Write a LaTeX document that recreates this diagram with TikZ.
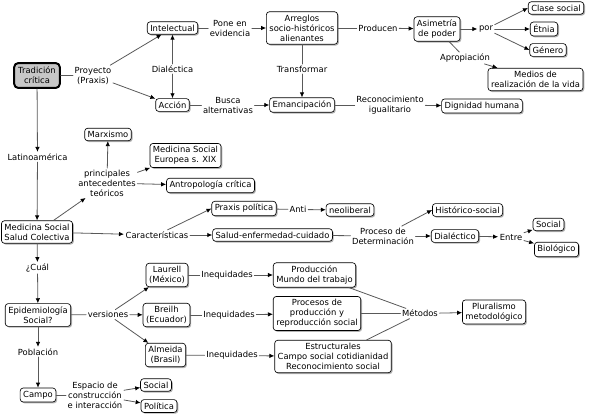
\documentclass[tikz,border=0pt]{standalone}
\usepackage{fontspec}
\setmainfont{DejaVu Sans}
\usetikzlibrary{arrows.meta,shadows}

\begin{document}
\begin{tikzpicture}[x=1pt,y=-1pt,>={Latex[length=5pt,width=4.5pt,color=black]},line cap=round,line join=round,
  font=\fontsize{8.4}{10}\selectfont,
  concept/.style={draw=black,line width=0.65pt,fill=white,rounded corners=3pt,align=center,inner xsep=3pt,inner ysep=3pt,
    drop shadow={shadow xshift=1.3pt,shadow yshift=-1.3pt,opacity=0.6}},
  focus/.style={draw=black,line width=2pt,fill=black!22,rounded corners=4pt,align=center,inner xsep=4pt,inner ysep=4pt},
  link/.style={align=center,inner sep=1.5pt},
  conn/.style={draw=black!65,line width=0.8pt}]
\useasboundingbox (0,0) rectangle (589,418);
% tradicion critica
\node[focus] (trad) at (37,75.5) {Tradición\\crítica};
\node[link] (proy) at (93,75.5) {Proyecto\\(Praxis)};
\node[concept] (intel) at (172.5,28) {Intelectual};
\node[link] (dial) at (172.5,69) {Dialéctica};
\node[concept] (accion) at (172.5,105) {Acción};
\node[link] (pone) at (230,28) {Pone en\\evidencia};
\node[concept] (arreglos) at (302,28) {Arreglos\\socio-históricos\\alienantes};
\node[link] (transf) at (302,69) {Transformar};
\node[link] (busca) at (228,105) {Busca\\alternativas};
\node[concept] (emanc) at (302,105) {Emancipación};
\node[link] (prod) at (378,28) {Producen};
\node[concept] (asim) at (437,29) {Asimetría\\de poder};
\node[link] (por) at (486,29) {por};
\node[concept] (clase) at (556,8) {Clase social};
\node[concept] (etnia) at (544,29) {Étnia};
\node[concept] (genero) at (548,50) {Género};
\node[link] (aprop) at (465,58) {Apropiación};
\node[concept] (medios) at (535.5,79.5) {Medios de\\realización de la vida};
\node[link] (recon) at (390,105) {Reconocimiento\\igualitario};
\node[concept] (dign) at (482,106) {Dignidad humana};
% medicina social
\node[link] (latam) at (37.5,157) {Latinoamérica};
\node[concept] (medsoc) at (37,232) {Medicina Social\\Salud Colectiva};
\node[link] (princ) at (107,183) {principales\\antecedentes\\teóricos};
\node[concept] (marx) at (108,134.5) {Marxismo};
\node[concept] (europ) at (185.5,155.5) {Medicina Social\\Europea s. XIX};
\node[concept] (antrop) at (210.5,185.5) {Antropología crítica};
\node[link] (caract) at (157,235) {Características};
\node[concept] (praxis) at (244,208.5) {Praxis política};
\node[link] (anti) at (298,209.5) {Anti};
\node[concept] (neolib) at (350,210) {neoliberal};
\node[concept] (salud) at (272.5,235) {Salud-enfermedad-cuidado};
\node[link] (proceso) at (383,236) {Proceso de\\Determinación};
\node[concept] (histor) at (467.5,210) {Histórico-social};
\node[concept] (dialect) at (455,236) {Dialéctico};
\node[link] (entre) at (511,237) {Entre};
\node[concept] (social) at (548.5,224.5) {Social};
\node[concept] (biol) at (556.5,249.5) {Biológico};
% epidemiologia
\node[link] (cual) at (37.5,268) {¿Cuál};
\node[concept] (epid) at (38,315) {Epidemiología\\Social?};
\node[link] (vers) at (108,314.5) {versiones};
\node[concept] (laurell) at (167,275) {Laurell\\(México)};
\node[concept] (breilh) at (166.5,315) {Breilh\\(Ecuador)};
\node[concept] (almeida) at (165.5,355) {Almeida\\(Brasil)};
\node[link] (ineqa) at (227,275) {Inequidades};
\node[link] (ineqb) at (229,315) {Inequidades};
\node[link] (ineqc) at (232,355.5) {Inequidades};
\node[concept] (produc) at (314.5,275) {Producción\\Mundo del trabajo};
\node[concept] (procesos) at (317,313.5) {Procesos de\\producción y\\reproducción social};
\node[concept] (estruct) at (333,356.5) {Estructurales\\Campo social cotidianidad\\Reconocimiento social};
\node[link] (metodos) at (420,313.5) {Métodos};
\node[concept] (plural) at (494,312) {Pluralismo\\metodológico};
\node[link] (pobl) at (38,352) {Población};
\node[concept] (campo) at (38,395) {Campo};
\node[link] (espacio) at (95,395) {Espacio de\\construcción\\e interacción};
\node[concept] (socialb) at (156,385) {Social};
\node[concept] (politica) at (159,406) {Política};
% connectors
\draw[conn] (trad) -- (proy);
\draw[conn,->] (proy) -- (intel);
\draw[conn,->] (proy) -- (accion);
\draw[conn,->] (dial) -- (intel);
\draw[conn,->] (dial) -- (accion);
\draw[conn] (intel) -- (pone);
\draw[conn,->] (pone) -- (arreglos);
\draw[conn] (arreglos) -- (transf);
\draw[conn,->] (transf) -- (emanc);
\draw[conn] (accion) -- (busca);
\draw[conn,->] (busca) -- (emanc);
\draw[conn] (arreglos) -- (prod);
\draw[conn,->] (prod) -- (asim);
\draw[conn,->] (asim) -- (por);
\draw[conn,->] (por) -- (clase.west);
\draw[conn,->] (por) -- (etnia);
\draw[conn,->] (por) -- (genero.west);
\draw[conn] (asim) -- (aprop);
\draw[conn,->] (aprop) -- (medios);
\draw[conn] (emanc) -- (recon);
\draw[conn,->] (recon) -- (dign);
\draw[conn,->] (trad) -- (latam);
\draw[conn,->] (latam) -- (medsoc);
\draw[conn,->] (medsoc) -- (princ);
\draw[conn,->] (princ) -- (marx);
\draw[conn,->] (princ) -- (europ);
\draw[conn,->] (princ) -- (antrop);
\draw[conn,->] (medsoc) -- (caract);
\draw[conn,->] (caract) -- (praxis.west);
\draw[conn,->] (caract) -- (salud);
\draw[conn] (praxis) -- (anti);
\draw[conn,->] (anti) -- (neolib);
\draw[conn] (salud) -- (proceso);
\draw[conn,->] (proceso) -- (histor.west);
\draw[conn,->] (proceso) -- (dialect);
\draw[conn,->] (dialect) -- (entre);
\draw[conn,->] (entre) -- (social);
\draw[conn,->] (entre) -- (biol);
\draw[conn,->] (medsoc) -- (cual);
\draw[conn,->] (cual) -- (epid);
\draw[conn] (epid) -- (vers);
\draw[conn,->] (vers) -- (laurell);
\draw[conn,->] (vers) -- (breilh);
\draw[conn,->] (vers) -- (almeida);
\draw[conn] (laurell) -- (ineqa);
\draw[conn,->] (ineqa) -- (produc);
\draw[conn] (breilh) -- (ineqb);
\draw[conn,->] (ineqb) -- (procesos);
\draw[conn] (almeida) -- (ineqc);
\draw[conn,->] (ineqc) -- (estruct);
\draw[conn] (produc) -- (metodos);
\draw[conn] (procesos) -- (metodos);
\draw[conn] (estruct) -- (metodos);
\draw[conn,->] (metodos) -- (plural);
\draw[conn,->] (epid) -- (pobl);
\draw[conn,->] (pobl) -- (campo);
\draw[conn] (campo) -- (espacio);
\draw[conn,->] (espacio) -- (socialb);
\draw[conn,->] (espacio) -- (politica);
\end{tikzpicture}
\end{document}
